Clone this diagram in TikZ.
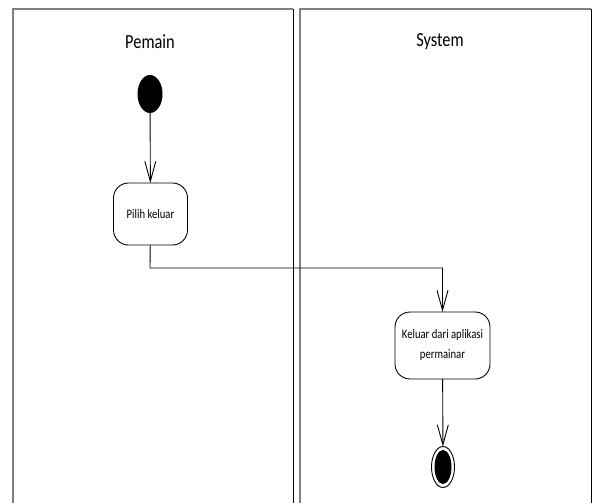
\documentclass[tikz,border=0pt]{standalone}
\usepackage{fontspec}
\setmainfont{Carlito}
\newfontfamily\lanefont[FakeStretch=0.82]{Carlito}
\usetikzlibrary{shapes.geometric,arrows.meta}

\begin{document}
\begin{tikzpicture}[x=1pt,y=-1pt,
  every node/.style={outer sep=0pt},
  action/.style={draw, line width=0.9pt, rounded corners=15pt, align=center, inner sep=1pt, font=\lanefont\fontsize{13}{20}\selectfont},
  flow/.style={line width=0.9pt, -{Straight Barb[length=20pt,width=11pt]}},
  title/.style={font=\lanefont\fontsize{20}{22}\selectfont}]
\useasboundingbox (0,0) rectangle (593,503);

% swimlanes
\draw[gray, line width=1.4pt] (13,503) -- (13,9) -- (293,9);
\draw[line width=1pt] (293,9) -- (293,503);
\draw[gray, line width=1.4pt] (300,503) -- (300,9) -- (591,9);
\draw[line width=1pt] (591,9) -- (591,503);

\node[title] (pemain) at (150,42) {Pemain};
\node[title] (system) at (440,42) {System};

\node[ellipse, fill=black, minimum width=25pt, minimum height=38pt] (start) at (150,94) {};
\node[action, minimum width=74pt, minimum height=62pt] (pilih) at (150.5,214) {Pilih keluar};
\node[action, minimum width=95pt, minimum height=67pt] (keluar) at (442.5,345.5) {Keluar dari aplikasi\\permainar};
\node[ellipse, draw, line width=0.9pt, minimum width=23pt, minimum height=41pt] (end) at (443,467) {};
\node[ellipse, fill=black, minimum width=17pt, minimum height=34pt] (endin) at (443,467) {};
\coordinate (bend) at (150,268);

\draw[flow] (start) -- (pilih);
\draw[flow] (pilih) -- (bend) -| (keluar);
\draw[flow] (keluar) -- (end);
\end{tikzpicture}
\end{document}
